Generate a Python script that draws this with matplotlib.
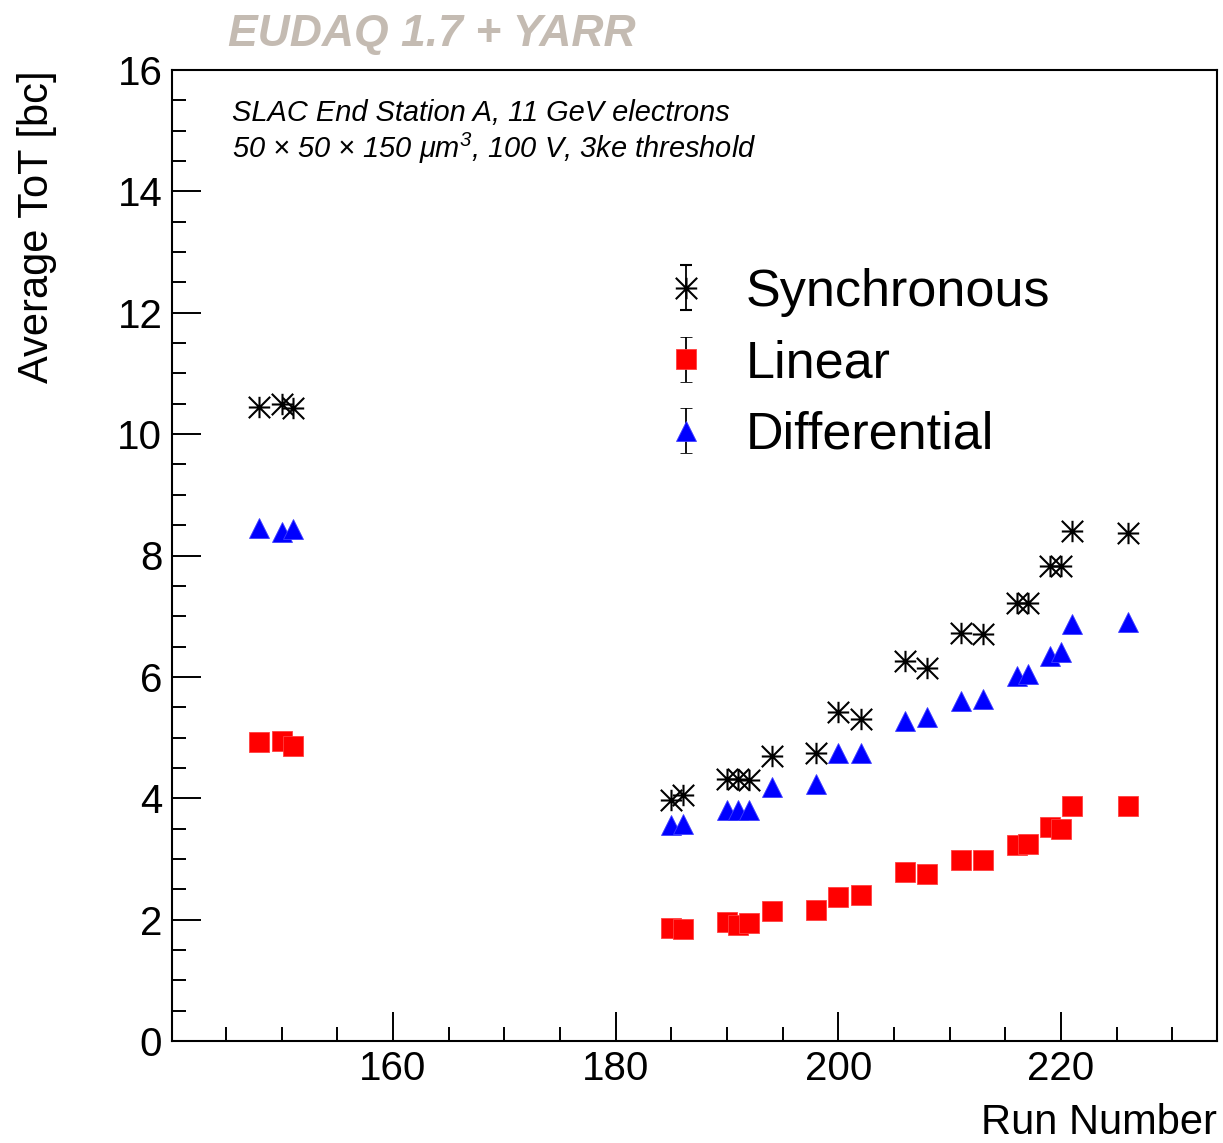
"""
Average ToT per run for the three front-end flavours (EUDAQ 1.7 + YARR)
"""
import matplotlib
matplotlib.use('Agg')
import numpy as np
import matplotlib.pyplot as plt
from matplotlib.path import Path
from matplotlib.ticker import MultipleLocator
from matplotlib.container import ErrorbarContainer
from matplotlib.legend_handler import HandlerErrorbar

plt.rcParams['font.family'] = ['Liberation Sans', 'DejaVu Sans']
plt.rcParams['mathtext.fontset'] = 'custom'
plt.rcParams['mathtext.rm'] = 'Liberation Sans:italic'
plt.rcParams['mathtext.it'] = 'Liberation Sans:italic'

# Run numbers and mean ToT [bc] per front end
run_number = [148, 150, 151, 185, 186, 190, 191, 192, 194, 198, 200,
              202, 206, 208, 211, 213, 216, 217, 219, 220, 221, 226]
tot_sync = [10.44, 10.49, 10.43, 3.97, 4.06, 4.31, 4.32, 4.30, 4.70, 4.74, 5.42,
            5.31, 6.26, 6.15, 6.72, 6.71, 7.21, 7.21, 7.83, 7.82, 8.41, 8.37]
tot_linear = [4.92, 4.95, 4.86, 1.86, 1.85, 1.96, 1.91, 1.94, 2.14, 2.16, 2.38,
              2.41, 2.78, 2.76, 2.98, 2.99, 3.23, 3.25, 3.52, 3.49, 3.87, 3.88]
tot_diff = [8.46, 8.39, 8.43, 3.56, 3.58, 3.80, 3.81, 3.80, 4.18, 4.23, 4.74,
            4.74, 5.27, 5.34, 5.60, 5.64, 6.02, 6.04, 6.35, 6.41, 6.87, 6.90]

# ROOT style asterisk: spokes out to the corners of a square
star = Path([(-1, 0), (1, 0), (0, -1), (0, 1), (-1, -1), (1, 1), (-1, 1), (1, -1)],
            [Path.MOVETO, Path.LINETO] * 4)

W, H = 1223, 1143
fig = plt.figure(figsize=(W / 100, H / 100), dpi=100)
ax = fig.add_axes([172 / W, 1 - 1041 / H, (1217 - 172) / W, (1041 - 70) / H])

sync_style = dict(marker=star, ms=15.4, mew=1.5, color='black')
lin_style = dict(marker='s', ms=14.8, mfc='red', mec='#ff4040', mew=0.6)
diff_style = dict(marker='^', ms=14.5, mfc='blue', mec='#4040ff', mew=0.6)

ax.plot(run_number, tot_sync, ls='none', **sync_style)
ax.plot(run_number, tot_linear, ls='none', **lin_style)
ax.plot(run_number, tot_diff, ls='none', **diff_style)

ax.set_xlim(140.15, 234)
ax.set_ylim(0, 16)
ax.xaxis.set_major_locator(MultipleLocator(20))
ax.xaxis.set_minor_locator(MultipleLocator(5))
ax.yaxis.set_major_locator(MultipleLocator(2))
ax.yaxis.set_minor_locator(MultipleLocator(0.5))
ax.tick_params(which='both', direction='in', top=False, right=False, width=1.4, labelsize=29)
ax.tick_params(which='major', length=21)
ax.tick_params(which='minor', length=10)
ax.tick_params(axis='x', pad=6.5)
ax.tick_params(axis='y', pad=7)
for sp in ax.spines.values():
    sp.set_linewidth(1.5)

ax.set_ylabel('Average ToT [bc]', fontsize=30, loc='top')
ax.yaxis.set_label_coords(-0.110, 1.0)
ax.set_xlabel('Run Number', fontsize=30, loc='right')
ax.xaxis.set_label_coords(1.0, -0.064)

# legend entries with error bar stubs (NaN point, never drawn in the axes)
eb_kw = dict(ls='none', ecolor='black', elinewidth=1.3, capsize=4, capthick=1.3)
h_sync = ax.errorbar([np.nan], [np.nan], yerr=[0], label='Synchronous', **eb_kw, **sync_style)
h_lin = ax.errorbar([np.nan], [np.nan], yerr=[0], label='Linear', **eb_kw, **lin_style)
h_diff = ax.errorbar([np.nan], [np.nan], yerr=[0], label='Differential', **eb_kw, **diff_style)
ax.legend(handles=[h_sync, h_lin, h_diff], loc='upper left',
          bbox_to_anchor=(660 / W, 1 - 268 / H), bbox_transform=fig.transFigure,
          frameon=False, fontsize=37.5, numpoints=1, handlelength=1.0,
          handletextpad=0.64, labelspacing=0.43, borderpad=0, borderaxespad=0,
          handler_map={ErrorbarContainer: HandlerErrorbar(yerr_size=0.43)})

fig.text(228 / W, 1 - 46 / H, 'EUDAQ 1.7 + YARR', fontsize=32, fontweight='bold',
         style='italic', color='#c4bbb2', ha='left', va='baseline')
fig.text(232 / W, 1 - 121 / H, 'SLAC End Station A, 11 GeV electrons',
         fontsize=20.9, style='italic', ha='left', va='baseline')
fig.text(232 / W, 1 - 158 / H, '50 × 50 × 150 μm$^{3}$, 100 V, 3ke threshold',
         fontsize=20.9, style='italic', ha='left', va='baseline')

fig.savefig('out.png', dpi=100)
